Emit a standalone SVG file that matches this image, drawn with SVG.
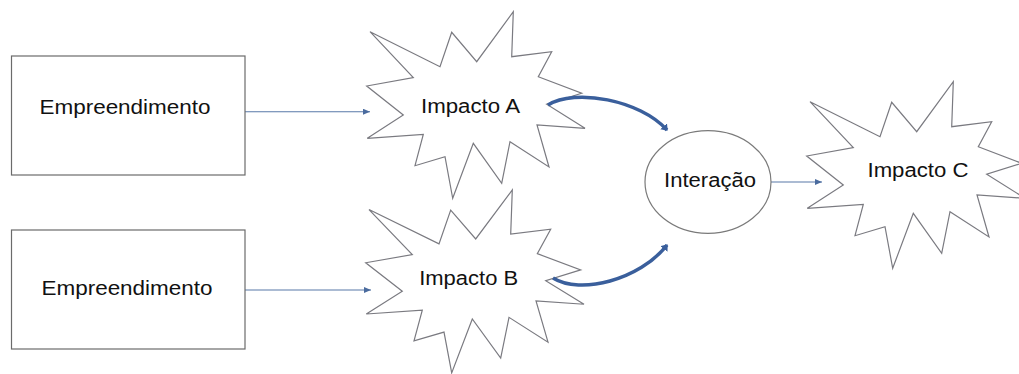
<svg xmlns="http://www.w3.org/2000/svg" xmlns:xlink="http://www.w3.org/1999/xlink" width="1019" height="374" viewBox="0 0 1019 374">
  <style>
    .box { fill: #ffffff; stroke: #6b6b6b; stroke-width: 1.2; }
    .star { fill: #ffffff; stroke: #7a7a80; stroke-width: 1.2; stroke-linejoin: miter; }
    .ell { fill: #ffffff; stroke: #7a7a7a; stroke-width: 1.2; }
    .lbl { font-family: "Liberation Sans", Arial, sans-serif; font-size: 20px; fill: #111111; text-anchor: middle; }
    .thin { fill: none; stroke: #5878a8; stroke-width: 1.1; }
    .thick { fill: none; stroke: #3a5f9c; stroke-width: 3.5; stroke-linecap: butt; }
  </style>
  <defs>
    <marker id="ah" markerUnits="userSpaceOnUse" markerWidth="8" markerHeight="7" refX="7" refY="3" orient="auto">
      <path d="M0,0 L7,3 L0,6 z" fill="#4a6b9e"/>
    </marker>
    <marker id="ahThick" markerUnits="userSpaceOnUse" markerWidth="10" markerHeight="10" refX="5" refY="4.5" orient="auto">
      <path d="M0,0 L6,4.5 L0,9 z" fill="#3a5f9c"/>
    </marker>
    <path id="star" d="M581.7,93.3 L546.7,104.3 L585,128.3 L537,125 L549,167 L510,141.7 L501.7,183.3 L473.3,143.3 L452.7,198.3 L445,156.7 L415,165.7 L423.3,134.3 L367.3,138.3 L403.3,115 L366.7,86 L413.3,77.7 L370,31.7 L440,66.7 L451.7,32.3 L476.7,61.7 L513.3,11.7 L511.7,56.7 L551.7,51.7 L538.3,76.7 Z"/>
  </defs>

  <g id="connectors">
    <line class="thin" x1="245" y1="111.7" x2="370" y2="111.7" marker-end="url(#ah)"/>
    <line class="thin" x1="245" y1="290" x2="371" y2="290" marker-end="url(#ah)"/>
    <line class="thin" x1="771" y1="182" x2="822" y2="182" marker-end="url(#ah)"/>
  </g>

  <g id="empreendimento1">
    <rect class="box" x="11.5" y="56" width="233.5" height="119"/>
    <text class="lbl" x="125" y="114" textLength="171" lengthAdjust="spacingAndGlyphs">Empreendimento</text>
  </g>

  <g id="empreendimento2">
    <rect class="box" x="11.5" y="230" width="233.5" height="119"/>
    <text class="lbl" x="127" y="295" textLength="171" lengthAdjust="spacingAndGlyphs">Empreendimento</text>
  </g>

  <g id="impactoA">
    <use xlink:href="#star" href="#star" class="star"/>
    <text class="lbl" x="470.5" y="112.7" textLength="99" lengthAdjust="spacingAndGlyphs">Impacto A</text>
  </g>

  <g id="impactoB">
    <use xlink:href="#star" href="#star" class="star" transform="matrix(1 0 0 0.98 -1 178.5)" vector-effect="non-scaling-stroke"/>
    <text class="lbl" x="468.7" y="285" textLength="99" lengthAdjust="spacingAndGlyphs">Impacto B</text>
  </g>

  <g id="interacao">
    <ellipse class="ell" cx="708" cy="182" rx="63" ry="51.3"/>
    <text class="lbl" x="710" y="187.3" textLength="92" lengthAdjust="spacingAndGlyphs">Interação</text>
  </g>

  <g id="impactoC">
    <use xlink:href="#star" href="#star" class="star" transform="translate(440,70)"/>
    <text class="lbl" x="918" y="176.5" textLength="101" lengthAdjust="spacingAndGlyphs">Impacto C</text>
  </g>

  <g id="connectors-curved">
    <path class="thick" d="M548,105 C575,88 640,100 667,130" marker-end="url(#ahThick)"/>
    <path class="thick" d="M553,278 C580,295 640,280 667,245" marker-end="url(#ahThick)"/>
  </g>
</svg>
